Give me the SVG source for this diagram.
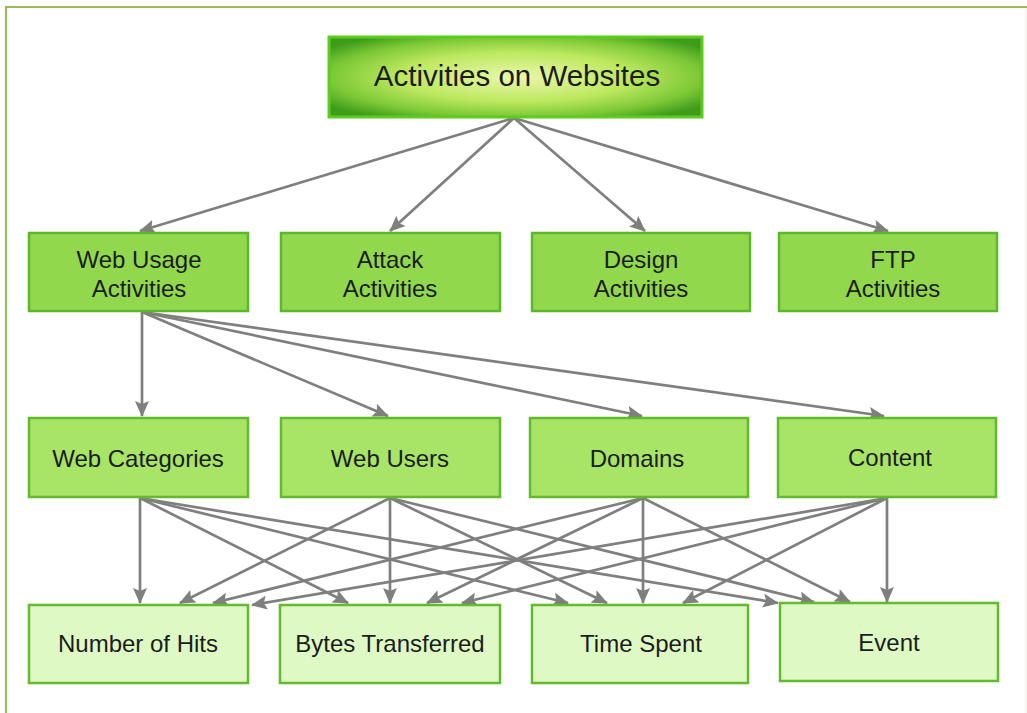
<svg xmlns="http://www.w3.org/2000/svg" width="1027" height="713" viewBox="0 0 1027 713">
<defs>
<radialGradient id="topg" cx="50%" cy="50%" r="62%">
<stop offset="0" stop-color="#eaf8ac"/>
<stop offset="0.5" stop-color="#bce85e"/>
<stop offset="0.8" stop-color="#7cc836"/>
<stop offset="1" stop-color="#3f9c1a"/>
</radialGradient>
<marker id="ah" viewBox="0 0 16 14" refX="15" refY="7" markerWidth="16" markerHeight="14" orient="auto" markerUnits="userSpaceOnUse">
<path d="M0,0 L16,7 L0,14 L3,7 z" fill="#7f7f7f"/>
</marker>
<style>
.l2{fill:#92d84c;stroke:#5cb82a;stroke-width:2.5}
.l3{fill:#a8e466;stroke:#62bb2c;stroke-width:2.5}
.l4{fill:#def9c4;stroke:#62bb2c;stroke-width:2.5}
text{font-family:"Liberation Sans",Arial,sans-serif;font-size:24px;fill:#1c1c1c;text-anchor:middle}
.c line{stroke:#7f7f7f;stroke-width:2.7;marker-end:url(#ah)}
</style>
</defs>
<rect width="1027" height="713" fill="#ffffff"/>
<g id="frame" fill="none">
<line x1="6" y1="7" x2="1027" y2="7" stroke="#9bbb59" stroke-width="2.2"/>
<line x1="6" y1="6" x2="6" y2="713" stroke="#9bbb59" stroke-width="2.2"/>
<line x1="1026" y1="8" x2="1026" y2="713" stroke="#f0f0dc" stroke-width="1"/>
</g>
<g class="c" id="connectors">
<line x1="514" y1="118" x2="140" y2="231"/>
<line x1="514" y1="118" x2="390" y2="231"/>
<line x1="514" y1="118" x2="645" y2="231"/>
<line x1="514" y1="118" x2="888" y2="231"/>
<line x1="142" y1="312" x2="142" y2="416"/>
<line x1="142" y1="312" x2="388" y2="416"/>
<line x1="142" y1="312" x2="642" y2="416"/>
<line x1="142" y1="312" x2="884" y2="416"/>
<line x1="140" y1="498" x2="140" y2="603"/>
<line x1="140" y1="498" x2="348" y2="603"/>
<line x1="140" y1="498" x2="568" y2="603"/>
<line x1="140" y1="498" x2="778" y2="603"/>
<line x1="390" y1="498" x2="180" y2="603"/>
<line x1="390" y1="498" x2="390" y2="603"/>
<line x1="390" y1="498" x2="607" y2="603"/>
<line x1="390" y1="498" x2="814" y2="602"/>
<line x1="643" y1="498" x2="213" y2="603"/>
<line x1="643" y1="498" x2="427" y2="603"/>
<line x1="643" y1="498" x2="643" y2="603"/>
<line x1="643" y1="498" x2="850" y2="602"/>
<line x1="887" y1="498" x2="252" y2="605"/>
<line x1="887" y1="498" x2="462" y2="603"/>
<line x1="887" y1="498" x2="683" y2="603"/>
<line x1="887" y1="498" x2="887" y2="602"/>
</g>
<g id="n-top">
<rect x="329" y="37" width="373" height="80" fill="url(#topg)" stroke="#5ccc1e" stroke-width="3"/>
<text x="517" y="86" style="font-size:29.5px">Activities on Websites</text>
</g>
<g id="n-webusage">
<rect class="l2" x="29" y="233" width="219" height="78"/>
<text x="139" y="268">Web Usage</text>
<text x="139" y="297">Activities</text>
</g>
<g id="n-attack">
<rect class="l2" x="281" y="233" width="219" height="78"/>
<text x="390" y="268">Attack</text>
<text x="390" y="297">Activities</text>
</g>
<g id="n-design">
<rect class="l2" x="532" y="233" width="218" height="78"/>
<text x="641" y="268">Design</text>
<text x="641" y="297">Activities</text>
</g>
<g id="n-ftp">
<rect class="l2" x="779" y="233" width="218" height="78"/>
<text x="893" y="268">FTP</text>
<text x="893" y="297">Activities</text>
</g>
<g id="n-webcat">
<rect class="l3" x="29" y="418" width="219" height="79"/>
<text x="138" y="467">Web Categories</text>
</g>
<g id="n-webusers">
<rect class="l3" x="281" y="418" width="219" height="79"/>
<text x="390" y="467">Web Users</text>
</g>
<g id="n-domains">
<rect class="l3" x="530" y="418" width="218" height="79"/>
<text x="637" y="467">Domains</text>
</g>
<g id="n-content">
<rect class="l3" x="778" y="418" width="218" height="79"/>
<text x="890" y="466">Content</text>
</g>
<g id="n-hits">
<rect class="l4" x="29" y="605" width="219" height="78"/>
<text x="138" y="652">Number of Hits</text>
</g>
<g id="n-bytes">
<rect class="l4" x="280" y="605" width="220" height="78"/>
<text x="390" y="652">Bytes Transferred</text>
</g>
<g id="n-time">
<rect class="l4" x="532" y="605" width="216" height="78"/>
<text x="641" y="652">Time Spent</text>
</g>
<g id="n-event">
<rect class="l4" x="780" y="603" width="218" height="78"/>
<text x="889" y="651">Event</text>
</g>
</svg>
